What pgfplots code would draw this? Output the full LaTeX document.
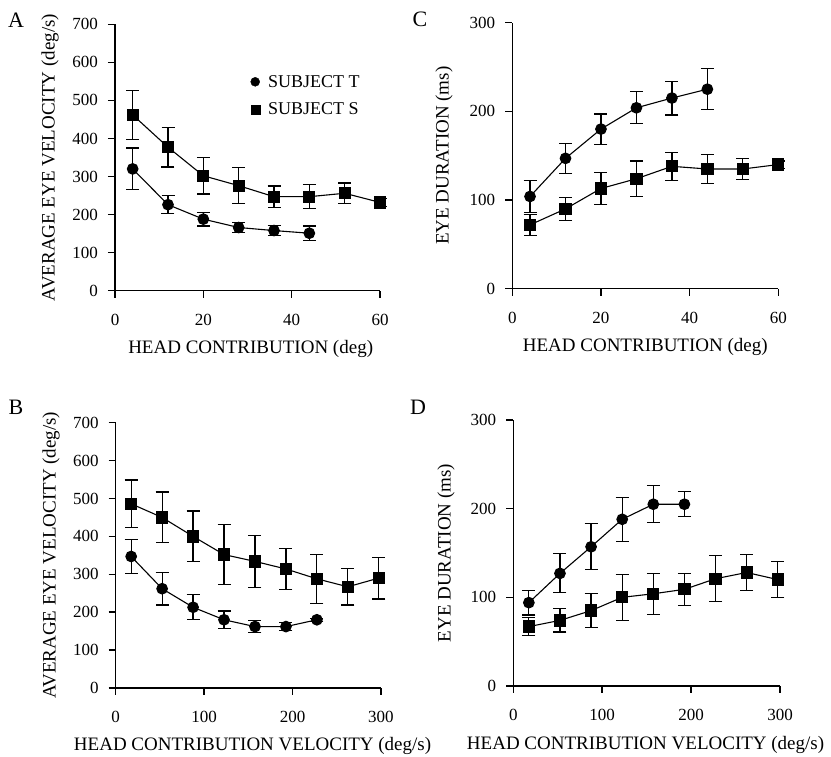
\documentclass[border=0pt]{standalone}
\usepackage{pgfplots}
\pgfplotsset{compat=1.18}
\usepackage{pgfplotstable}
\usepackage{fontspec}
\setmainfont{Liberation Serif}

% panel A: eye velocity vs head contribution
\pgfplotstableread{
x y e
4 320 55
12 226 24
20 188 18
28 166 14
36 158 13
44 151 19
}\aT
\pgfplotstableread{
x y e
4 462 65
12 377 52
20 302 48
28 276 47
36 247 28
44 247 31
52 256 27
60 232 10
}\aS
% panel C: eye duration vs head contribution
\pgfplotstableread{
x y e
4 104 18
12 147 17
20 180 17
28 204 18
36 215 19
44 225 23
}\cT
\pgfplotstableread{
x y e
4 72 12
12 90 13
20 113 18
28 124 20
36 138 16
44 135 16
52 135 12
60 140 4
}\cS
% panel B: eye velocity vs head contribution velocity
\pgfplotstableread{
x y e
17.5 347 45
52.5 262 43
87.5 213 33
122.5 180 23
157.5 162 16
192.5 162 10
227.5 180 4
}\bT
\pgfplotstableread{
x y e
17.5 486 63
52.5 450 67
87.5 400 67
122.5 352 79
157.5 334 68
192.5 314 54
227.5 288 65
262.5 267 48
297.5 290 55
}\bS
% panel D: eye duration vs head contribution velocity
\pgfplotstableread{
x y e
17.5 94 14
52.5 127 22
87.5 157 26
122.5 188 25
157.5 205 21
192.5 205 14
}\dT
\pgfplotstableread{
x y e
17.5 67 10
52.5 74 13
87.5 85 19
122.5 100 26
157.5 104 23
192.5 109 18
227.5 121 26
262.5 128 20
297.5 120 20
}\dS

\pgfplotsset{
  panel/.style={
    scale only axis, anchor=south west,
    axis lines=left, axis line style={-, line width=1.5pt},
    tick align=outside, major tick length=7pt,
    tick style={line width=1.5pt, black},
    xmin=0, ymin=0, clip=false,
    /pgf/number format/assume math mode=true,
    xticklabel={\fontsize{17}{17}\selectfont\pgfmathprintnumber{\tick}},
    yticklabel={\fontsize{17}{17}\selectfont\pgfmathprintnumber{\tick}},
    xticklabel style={anchor=base, inner sep=0pt, yshift=-28pt},
    yticklabel style={anchor=east, inner sep=0pt, xshift=-10pt},
    label style={font=\fontsize{19}{19}\selectfont},
    xlabel style={at={(axis description cs:0.5,-0.237)}, anchor=base},
    ylabel style={at={(axis description cs:-0.25,0.5)}, anchor=center},
  },
  dat/.style={black, line width=1.1pt, mark options={solid, fill=black},
    error bars/y dir=both, error bars/y explicit,
    error bars/error bar style={line width=1.2pt},
    error bars/error mark options={rotate=90, mark size=6.5pt, line width=1.2pt}},
  subT/.style={dat, mark=*, mark size=5.3pt},
  subS/.style={dat, mark=square*, mark size=5.6pt},
}

\begin{document}
\begin{tikzpicture}
\useasboundingbox (0,0) rectangle (831pt,757pt);

\begin{axis}[panel, at={(115pt,466.3pt)}, width=265pt, height=266.4pt,
  xmax=60, ymax=700, xtick={0,20,40,60}, ytick={0,100,...,700},
  xlabel={HEAD CONTRIBUTION (deg)},
  xlabel style={at={(axis description cs:0.512,-0.237)}},
  ylabel={AVERAGE EYE VELOCITY (deg/s)},
  ylabel style={at={(axis description cs:-0.245,0.5)}},
  legend style={at={(axis description cs:0.50,0.825)}, anchor=north west,
    draw=none, fill=none, font=\fontsize{18}{18}\selectfont, row sep=10pt},
  legend cell align=left,
  legend image code/.code={\draw[#1] plot coordinates {(4pt,0pt)}; \path[draw=none] (0pt,0pt) -- (15pt,0pt);}]
\addlegendimage{black, mark=*, mark size=4.5pt}
\addlegendentry{\fontsize{18}{18}\selectfont SUBJECT T}
\addlegendimage{black, mark=square*, mark size=4.5pt}
\addlegendentry{\fontsize{18}{18}\selectfont SUBJECT S}
\addplot[subT, forget plot] table[x=x, y=y, y error=e] {\aT};
\addplot[subS, forget plot] table[x=x, y=y, y error=e] {\aS};
\end{axis}

\begin{axis}[panel, at={(512.3pt,468.3pt)}, width=266pt, height=266pt,
  xmax=60, ymax=300, xtick={0,20,40,60}, ytick={0,100,200,300},
  xlabel={HEAD CONTRIBUTION (deg)},
  ylabel={EYE DURATION (ms)},
  ylabel style={at={(axis description cs:-0.257,0.5)}}]
\addplot[subT] table[x=x, y=y, y error=e] {\cT};
\addplot[subS] table[x=x, y=y, y error=e] {\cS};
\end{axis}

\begin{axis}[panel, at={(115.7pt,69pt)}, width=265.3pt, height=265.3pt,
  xmax=300, ymax=700, xtick={0,100,200,300}, ytick={0,100,...,700},
  xlabel={HEAD CONTRIBUTION VELOCITY (deg/s)},
  xlabel style={at={(axis description cs:0.516,-0.237)}},
  ylabel={AVERAGE EYE VELOCITY (deg/s)},
  ylabel style={at={(axis description cs:-0.244,0.5)}}]
\addplot[subT] table[x=x, y=y, y error=e] {\bT};
\addplot[subS] table[x=x, y=y, y error=e] {\bS};
\end{axis}

\begin{axis}[panel, at={(513.3pt,71pt)}, width=266.7pt, height=266pt,
  xmax=300, ymax=300, xtick={0,100,200,300}, ytick={0,100,200,300},
  xlabel={HEAD CONTRIBUTION VELOCITY (deg/s)},
  xlabel style={at={(axis description cs:0.496,-0.237)}},
  ylabel={EYE DURATION (ms)},
  ylabel style={at={(axis description cs:-0.252,0.5)}}]
\addplot[subT] table[x=x, y=y, y error=e] {\dT};
\addplot[subS] table[x=x, y=y, y error=e] {\dS};
\end{axis}

\node[font=\fontsize{22}{22}\selectfont] at (16pt,737pt) {A};
\node[font=\fontsize{22}{22}\selectfont] at (420pt,738pt) {C};
\node[font=\fontsize{22}{22}\selectfont] at (16pt,350pt) {B};
\node[font=\fontsize{22}{22}\selectfont] at (418pt,350pt) {D};
\end{tikzpicture}
\end{document}
